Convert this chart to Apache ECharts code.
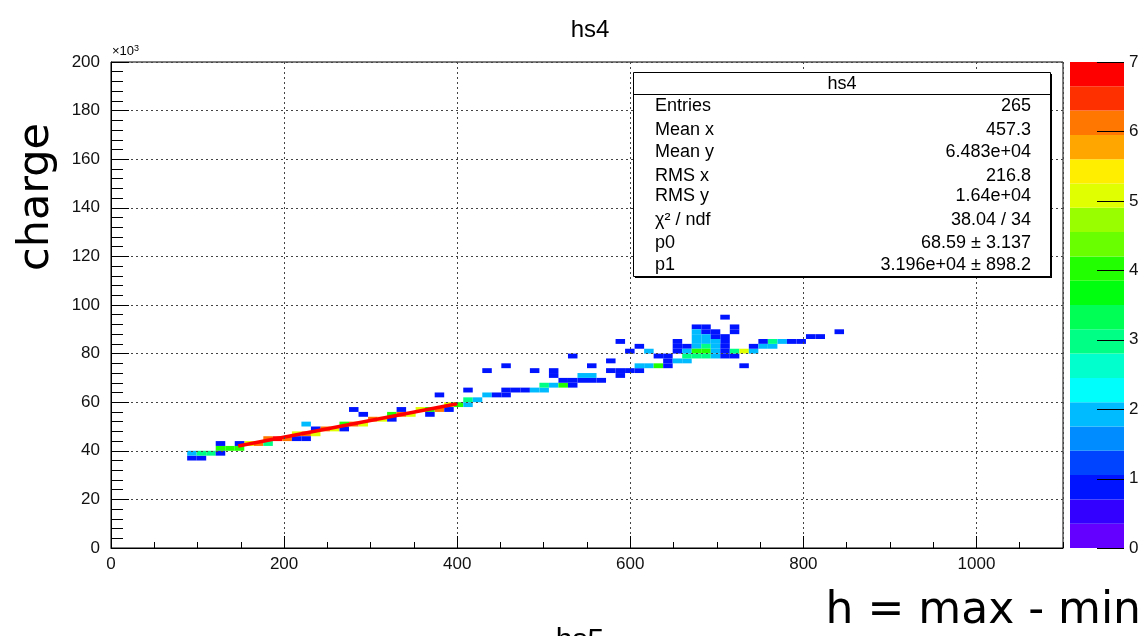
<!DOCTYPE html>
<html>
<head>
<meta charset="utf-8">
<script src="https://cdn.jsdelivr.net/npm/echarts@6/dist/echarts.min.js"></script>
<style>
html,body{margin:0;padding:0;background:#fff;}
#chart{width:1143px;height:636px;}
</style>
</head>
<body>
<div id="chart"></div>
<script>
// ---- data (histogram hs4: h = max - min vs charge) ----
const xBinWidth = 11;     // 100 bins over 0..1100
const yBinWidth = 2;      // 100 bins over 0..200 (x10^3)
// cells: [x bin index, y bin index, entries]
const cellsAlongFit = [
  [8,18,1],[9,18,1],[8,19,2],[9,19,3],[10,19,3],
  [11,20,4],[12,20,4],[13,20,4],[14,21,5],[15,21,6],[16,21,3],[16,22,6],
  [17,22,7],[18,22,6],[19,23,5],[20,23,6],[21,23,5],[22,24,6],[23,24,5],
  [24,25,4],[25,25,6],[26,25,5],[27,26,6],[28,26,5],[29,27,4],[30,27,6],
  [31,27,5],[32,28,5],[33,28,4],[34,28,6],[35,29,5],[36,29,4]
];
const cellsScatter = [
  [11,21,1],[11,19,1],[13,21,1],
  [19,22,1],[20,22,1],[20,25,2],[21,24,1],[24,24,1],
  [25,28,1],[26,27,1],[29,26,1],[30,28,1],[33,27,1],[34,31,1],[35,28,1],
  [37,29,2],[37,30,3],[38,30,2],[37,32,1],
  [39,31,2],[40,31,1],[41,31,1],[41,32,1],[39,36,1],[41,37,1],
  [42,32,1],[43,32,1],[44,32,2],[45,32,2],[45,33,3],[44,36,1],
  [46,33,2],[47,33,4],[46,35,1],[46,36,1],
  [47,34,1],[48,34,1],[49,34,1],[50,34,1],[51,34,1],[48,33,1],[48,39,1],
  [49,35,2],[50,35,2],[50,37,1],
  [52,36,1],[52,38,1],[53,42,1],[53,35,1],[53,36,1],[54,36,1],[55,36,1],[54,40,1],[55,41,1],
  [55,37,2],[56,37,2],[57,37,4],[56,40,2],[57,39,1],[58,39,1],[58,37,1],[58,38,1],
  [59,40,1],[59,41,1],[59,42,1],[59,38,2],[60,38,2],[60,39,3],
  [61,45,1],[62,45,1],[61,44,2],[62,44,1],[64,47,1],[65,45,1],[65,44,1],
  [61,43,2],[62,43,2],[63,43,1],[63,44,1],[64,43,1],[64,42,1],
  [61,42,2],[62,42,2],[63,42,2],
  [60,41,1],[61,41,2],[62,41,3],[63,41,2],[64,41,1],
  [60,40,2],[61,40,4],[62,40,4],[63,40,2],[64,40,1],
  [61,39,3],[62,39,3],[63,39,2],[64,39,1],[65,39,1],
  [65,40,3],[66,40,5],[67,40,2],[67,41,1],[66,37,1],
  [68,42,1],[68,41,2],[69,41,2],[69,42,3],[70,42,2],[71,42,1],[72,42,1],
  [73,43,1],[74,43,1],[76,44,1]
];
// fit line end points (x, charge x10^3)
const fitX = [147, 400];
const fitY = [42.0, 59.4];
// axis ticks
const xTicks = [0, 200, 400, 600, 800, 1000];
const yTicks = [0, 20, 40, 60, 80, 100, 120, 140, 160, 180, 200];
const zLevels = [0, 1, 2, 3, 4, 5, 6, 7];
const nContours = 20;
const zMax = 7;
// stats box
const statsLabels = ['Entries', 'Mean x', 'Mean y', 'RMS x', 'RMS y', 'χ² / ndf', 'p0', 'p1'];
const statsValues = ['265', '457.3', '6.483e+04', '216.8', '1.64e+04', '38.04 / 34', '68.59 ± 3.137', '3.196e+04 ± 898.2'];

// ---- ROOT-like palette ----
function paletteColor(band) {
  const k = Math.floor((band + 0.99) * 50 / nContours);
  const hue = 280 - (k + 1) * 5.6;
  return 'hsl(' + hue.toFixed(1) + ',100%,50%)';
}
function colorFor(n) {
  const band = Math.min(nContours - 1, Math.floor(n / (zMax / nContours)));
  return paletteColor(band);
}

const cellData = cellsAlongFit.concat(cellsScatter).map(c => [c[0] * xBinWidth, c[1] * yBinWidth, c[2]]);
const bandData = [];
for (let i = 0; i < nContours; i++) bandData.push([i * zMax / nContours, (i + 1) * zMax / nContours, i]);

const FONT = '"Liberation Sans", Arial, Helvetica, sans-serif';
const statsRowsY = [106, 130, 152, 176, 196, 220, 243, 265];

const graphics = [];
graphics.push({ type: 'text', x: 590, y: 30, style: { text: 'hs4', font: '24px ' + FONT, fill: '#000', align: 'center', verticalAlign: 'middle' }, z: 50 });
graphics.push({ type: 'text', x: 112, y: 44, style: { text: '×10{s|3}', font: '13px ' + FONT, fill: '#000',
  rich: { s: { fontSize: 9, verticalAlign: 'top', padding: [0,0,6,0] } } }, z: 50 });
graphics.push({ type: 'text', x: 37, y: 197, rotation: Math.PI / 2, style: { text: 'charge', font: '43px "DejaVu Sans", sans-serif', fill: '#000', align: 'center', verticalAlign: 'middle' }, z: 50 });
graphics.push({ type: 'text', x: 1141, y: 612, style: { text: 'h = max - min', font: '44px "DejaVu Sans", sans-serif', fill: '#000', align: 'right', verticalAlign: 'middle' }, z: 50 });
graphics.push({ type: 'text', x: 580, y: 626, style: { text: 'hs5', font: '30px ' + FONT, fill: '#000', align: 'center', verticalAlign: 'top' }, z: 50 });
// stats box
graphics.push({ type: 'rect', shape: { x: 635, y: 74, width: 417, height: 204 }, style: { fill: '#000' }, z: 90 });
graphics.push({ type: 'rect', shape: { x: 633.5, y: 72.5, width: 417, height: 204 }, style: { fill: '#fff', stroke: '#000', lineWidth: 1 }, z: 91 });
graphics.push({ type: 'line', shape: { x1: 633.5, y1: 94.5, x2: 1050.5, y2: 94.5 }, style: { stroke: '#000', lineWidth: 1 }, z: 92 });
graphics.push({ type: 'text', x: 842, y: 84, style: { text: 'hs4', font: '18px ' + FONT, fill: '#000', align: 'center', verticalAlign: 'middle' }, z: 93 });
statsLabels.forEach((t, i) => {
  graphics.push({ type: 'text', x: 655, y: statsRowsY[i], style: { text: t, font: '18px ' + FONT, fill: '#000', align: 'left', verticalAlign: 'middle' }, z: 93 });
  graphics.push({ type: 'text', x: 1031, y: statsRowsY[i], style: { text: statsValues[i], font: '18px ' + FONT, fill: '#000', align: 'right', verticalAlign: 'middle' }, z: 93 });
});

const chart = echarts.init(document.getElementById('chart'), null, { renderer: 'canvas' });
const labelStyle = { color: '#111', fontSize: 17, fontFamily: FONT };
chart.setOption({
  backgroundColor: '#fff',
  animation: false,
  grid: [
    { left: 111, right: 80, top: 62, bottom: 88, show: true, borderColor: '#000', borderWidth: 1, backgroundColor: 'transparent' },
    { left: 1070, width: 54, top: 62, height: 486, show: false }
  ],
  xAxis: [
    { type: 'value', gridIndex: 0, min: 0, max: 1100, interval: 200, position: 'bottom', z: 5,
      axisLine: { show: true, onZero: false, lineStyle: { color: '#000', width: 1 } },
      axisTick: { show: true, inside: true, length: 12, lineStyle: { color: '#000', width: 1 } },
      axisLabel: { ...labelStyle, margin: 8, showMaxLabel: false, formatter: v => xTicks.includes(v) ? String(v) : '' },
      splitLine: { show: true, lineStyle: { color: '#444', width: 1, type: [2, 3] } } },
    { type: 'value', gridIndex: 0, min: 0, max: 1100, interval: 50, position: 'bottom', offset: 0, z: 5,
      axisLine: { show: false }, axisLabel: { show: false }, splitLine: { show: false },
      axisTick: { show: true, inside: true, length: 6, lineStyle: { color: '#000', width: 1 } } },
    { type: 'value', gridIndex: 1, min: 0, max: 1, show: false }
  ],
  yAxis: [
    { type: 'value', gridIndex: 0, min: 0, max: 200, interval: 20, position: 'left', z: 5,
      axisLine: { show: true, onZero: false, lineStyle: { color: '#000', width: 1 } },
      axisTick: { show: true, inside: true, length: 18, lineStyle: { color: '#000', width: 1 } },
      axisLabel: { ...labelStyle, margin: 11, formatter: v => yTicks.includes(v) ? String(v) : '' },
      splitLine: { show: true, lineStyle: { color: '#444', width: 1, type: [2, 3] } } },
    { type: 'value', gridIndex: 0, min: 0, max: 200, interval: 4, position: 'left', offset: 0, z: 5,
      axisLine: { show: false }, axisLabel: { show: false }, splitLine: { show: false },
      axisTick: { show: true, inside: true, length: 12, lineStyle: { color: '#000', width: 1 } } },
    { type: 'value', gridIndex: 1, min: 0, max: zMax, interval: 1, position: 'right', z: 5,
      axisLine: { show: false }, axisTick: { show: false },
      axisLabel: { ...labelStyle, margin: 5, formatter: v => zLevels.includes(v) ? String(v) : '' },
      splitLine: { show: false } }
  ],
  series: [
    { type: 'custom', xAxisIndex: 0, yAxisIndex: 0, data: cellData, z: 2,
      renderItem: (params, api) => {
        const x = api.value(0), y = api.value(1), n = api.value(2);
        const p0 = api.coord([x, y + yBinWidth]);
        const p1 = api.coord([x + xBinWidth, y]);
        return { type: 'rect', shape: { x: p0[0], y: p0[1], width: p1[0] - p0[0], height: p1[1] - p0[1] },
                 style: { fill: colorFor(n) } };
      } },
    { type: 'line', xAxisIndex: 0, yAxisIndex: 0, z: 3, showSymbol: false, silent: true,
      data: fitX.map((x, i) => [x, fitY[i]]),
      lineStyle: { color: '#ff0000', width: 3.5 } },
    { type: 'custom', xAxisIndex: 2, yAxisIndex: 2, data: bandData, z: 2,
      renderItem: (params, api) => {
        const lo = api.value(0), hi = api.value(1), b = api.value(2);
        const p0 = api.coord([0, hi]);
        const p1 = api.coord([1, lo]);
        return { type: 'rect', shape: { x: p0[0], y: p0[1], width: p1[0] - p0[0], height: p1[1] - p0[1] },
                 style: { fill: paletteColor(b) } };
      } },
    { type: 'custom', xAxisIndex: 2, yAxisIndex: 2, data: zLevels.map(v => [v]), z: 4,
      renderItem: (params, api) => {
        const v = api.value(0);
        const a = api.coord([0.5, v]);
        const b = api.coord([1, v]);
        return { type: 'line', shape: { x1: a[0], y1: Math.round(a[1]) + 0.5, x2: b[0], y2: Math.round(b[1]) + 0.5 },
                 style: { stroke: '#000', lineWidth: 1 } };
      } }
  ],
  graphic: graphics
});
</script>
</body>
</html>
